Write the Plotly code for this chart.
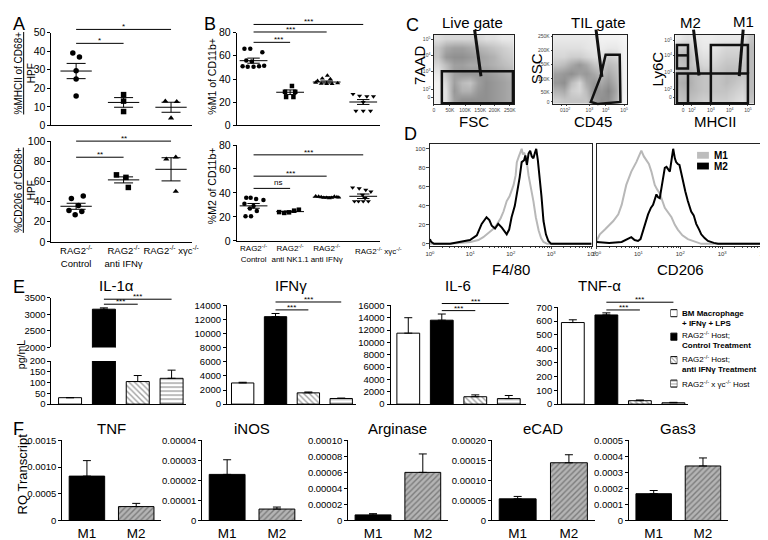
import plotly.graph_objects as go

W, H = 768, 540
FONT = "Liberation Sans, Arial, Helvetica, sans-serif"

# ---------------- data ----------------
# A: macrophage phenotype per HPF
a_labels = ["RAG2<sup>-/-</sup><br>Control", "RAG2<sup>-/-</sup><br>anti IFNγ",
            "RAG2<sup>-/-</sup> xγc<sup>-/-</sup>"]
a_mhcii = [[39, 36.9, 29.4, 25, 15.9], [16.6, 13.1, 7.5], [13.1, 12.8, 4.0]]
a_mhcii_dx = [[-0.07, 0.07, 0, 0, 0], [0, 0, 0], [-0.12, 0.12, 0]]
a_mhcii_mean = [29.3, 12.4, 9.8]
a_mhcii_sem = [4.1, 2.6, 2.7]
a_mhcii_sig = [(0, 1, 44.2, "*"), (0, 2, 51.7, "*")]

a_cd206 = [[45.5, 43, 36, 31, 30, 27], [66.5, 64, 54], [84, 82, 50]]
a_cd206_dx = [[0.15, -0.1, 0.05, -0.15, 0.12, -0.02], [-0.15, 0.05, 0.1], [0.1, -0.1, 0.1]]
a_cd206_mean = [35.3, 61.5, 72]
a_cd206_sem = [3.0, 3.0, 11.5]
a_cd206_sig = [(0, 1, 84, "**"), (0, 2, 100, "**")]

# B: M1 / M2 share of CD11b+ cells
b_labels = ["RAG2<sup>-/-</sup><br>Control", "RAG2<sup>-/-</sup><br>anti NK1.1",
            "RAG2<sup>-/-</sup><br>anti IFNγ", "RAG2<sup>-/-</sup> xγc<sup>-/-</sup>"]
b_m1 = [[66, 66, 63, 56, 55, 51, 50.5, 50.5, 51, 51.5],
        [34, 29, 29, 24.5, 24.5],
        [43, 40.5, 40, 38.5, 37, 36, 35.8, 35.8, 36.4],
        [27, 25.5, 25, 25, 20, 12.5, 12.5, 12.5]]
b_m1_dx = [[-0.25, -0.09, 0.24, -0.2, -0.05, -0.3, -0.16, 0, 0.15, 0.29],
           [0.05, -0.14, 0.14, -0.11, 0.09],
           [0.02, -0.12, 0.1, -0.25, -0.3, -0.15, 0, 0.15, 0.3],
           [-0.28, -0.1, 0.1, 0.28, 0, -0.2, 0, 0.2]]
b_m1_mean = [55.8, 28.6, 37.4, 20.2]
b_m1_sem = [2.2, 2.0, 0.9, 2.1]
b_m1_sig = [(0, 1, 71.6, "***"), (0, 2, 80.5, "***"), (0, 3, 87, "***")]

b_m2 = [[36, 36, 35, 34, 31, 29, 27, 25, 20.5, 20.5],
        [24, 23.3, 23.8, 25.2, 26],
        [37.3, 37, 36.5, 36, 36, 35.6, 36, 37, 36.5, 36.2],
        [44.5, 43.8, 42.5, 41, 38.4, 35.6, 33, 33, 33, 33]]
b_m2_dx = [[-0.2, -0.08, 0.07, 0.27, -0.25, 0, -0.1, 0.09, -0.22, -0.07],
           [-0.3, -0.16, -0.03, 0.11, 0.24],
           [-0.3, -0.22, -0.15, -0.08, 0, 0.07, 0.14, 0.21, 0.28, 0.33],
           [-0.29, -0.11, 0.07, 0.21, -0.02, 0.05, -0.24, -0.13, 0.0, 0.14]]
b_m2_mean = [29.2, 24.4, 36.4, 37.2]
b_m2_sem = [2.0, 0.5, 0.4, 1.9]
b_m2_sig = [(0, 1, 43.8, "ns"), (0, 2, 54, "***"), (0, 3, 71.8, "***")]

# C: gating density (rows top -> bottom, darkness 0..1)
c_live = [[0.15, 0.2, 0.2, 0.2, 0.2, 0.2, 0.15, 0.15, 0.1, 0.1],
          [0.3, 0.45, 0.5, 0.5, 0.45, 0.4, 0.35, 0.3, 0.25, 0.2],
          [0.3, 0.55, 0.6, 0.6, 0.55, 0.5, 0.45, 0.4, 0.3, 0.25],
          [0.2, 0.35, 0.5, 0.5, 0.45, 0.45, 0.45, 0.4, 0.35, 0.3],
          [0.1, 0.3, 0.5, 0.55, 0.55, 0.55, 0.55, 0.5, 0.45, 0.4],
          [0.05, 0.2, 0.5, 0.35, 0.3, 0.5, 0.6, 0.55, 0.5, 0.45],
          [0.05, 0.15, 0.55, 0.4, 0.4, 0.55, 0.6, 0.55, 0.5, 0.45],
          [0.05, 0.15, 0.5, 0.6, 0.6, 0.6, 0.6, 0.55, 0.5, 0.45]]
c_til = [[0.1, 0.1, 0.1, 0.1, 0.1, 0.08, 0.05, 0.05, 0.05, 0.03],
         [0.15, 0.15, 0.15, 0.15, 0.12, 0.1, 0.08, 0.1, 0.1, 0.05],
         [0.2, 0.2, 0.25, 0.25, 0.2, 0.15, 0.15, 0.25, 0.2, 0.05],
         [0.3, 0.35, 0.45, 0.55, 0.45, 0.3, 0.25, 0.35, 0.3, 0.05],
         [0.5, 0.55, 0.6, 0.5, 0.55, 0.45, 0.35, 0.45, 0.35, 0.05],
         [0.55, 0.6, 0.35, 0.2, 0.45, 0.55, 0.45, 0.55, 0.4, 0.05],
         [0.4, 0.45, 0.25, 0.2, 0.35, 0.6, 0.55, 0.65, 0.45, 0.05],
         [0.25, 0.3, 0.3, 0.3, 0.3, 0.5, 0.6, 0.6, 0.4, 0.03]]
c_mac = [[0.1, 0.15, 0.1, 0.08, 0.08, 0.1, 0.1, 0.1, 0.1, 0.3],
         [0.25, 0.3, 0.15, 0.1, 0.1, 0.15, 0.2, 0.2, 0.2, 0.35],
         [0.35, 0.4, 0.2, 0.15, 0.15, 0.2, 0.25, 0.25, 0.25, 0.35],
         [0.3, 0.35, 0.25, 0.2, 0.2, 0.25, 0.3, 0.3, 0.3, 0.35],
         [0.35, 0.4, 0.35, 0.3, 0.3, 0.3, 0.35, 0.35, 0.3, 0.35],
         [0.4, 0.45, 0.35, 0.3, 0.3, 0.3, 0.35, 0.3, 0.25, 0.35],
         [0.35, 0.4, 0.35, 0.3, 0.3, 0.3, 0.3, 0.25, 0.2, 0.35],
         [0.3, 0.35, 0.3, 0.25, 0.25, 0.25, 0.25, 0.2, 0.15, 0.3]]

# D: histograms (x as log10 of fluorescence, y as % of max)
d_f480_m1_exp = [0.0, 0.5, 1.0, 1.2, 1.32, 1.45, 1.55, 1.65, 1.75, 1.82, 1.9, 1.97, 2.03, 2.07, 2.12,
                 2.15, 2.2, 2.24, 2.27, 2.3, 2.33, 2.36, 2.4, 2.44, 2.5, 2.56, 2.62, 2.69, 2.75, 2.81,
                 2.9, 3.1, 4.0]
d_f480_m1 = [0, 0, 2, 4, 7, 11, 15, 20, 27, 34, 45, 50, 58, 62, 72, 86, 92, 97, 100, 94, 96, 93, 85,
             72, 60, 45, 28, 14, 6, 2, 0, 0, 0]
d_f480_m2_exp = [0.0, 0.03, 0.1, 0.5, 0.99, 1.16, 1.28, 1.4, 1.47, 1.53, 1.61, 1.69, 1.78, 1.86, 1.9,
                 1.96, 2.02, 2.1, 2.15, 2.22, 2.27, 2.33, 2.36, 2.4, 2.44, 2.48, 2.52, 2.56, 2.6, 2.63,
                 2.67, 2.71, 2.76, 2.81, 2.87, 2.93, 3.0, 3.5, 4.0]
d_f480_m2 = [5, 2, 0, 0, 4, 9, 21, 28, 25, 19, 16, 21, 17, 12, 10, 15, 28, 40, 52, 70, 86, 88, 93, 83,
             95, 98, 92, 90, 96, 100, 88, 72, 50, 24, 10, 3, 0, 0, 0]
d_cd206_m1_exp = [0.0, 0.08, 0.2, 0.4, 0.52, 0.6, 0.71, 0.83, 0.95, 1.01, 1.07, 1.13, 1.19, 1.25,
                  1.31, 1.39, 1.45, 1.51, 1.63, 1.71, 1.79, 1.87, 1.94, 2.05, 2.18, 2.5, 3.0, 4.0]
d_cd206_m1 = [3, 10, 15, 24, 31, 41, 62, 76, 86, 93, 98, 92, 88, 84, 76, 62, 57, 53, 38, 33, 28, 20,
              15, 9, 5, 0, 0, 0]
d_cd206_m2_exp = [0.0, 0.3, 0.6, 0.75, 0.83, 0.91, 0.99, 1.05, 1.11, 1.17, 1.23, 1.3, 1.35, 1.43, 1.47,
                  1.51, 1.55, 1.59, 1.63, 1.67, 1.71, 1.75, 1.79, 1.83, 1.87, 1.9, 1.94, 1.98, 2.02,
                  2.06, 2.12, 2.18, 2.26, 2.32, 2.38, 2.45, 2.5, 2.58, 2.66, 2.8, 2.9, 3.2, 4.0]
d_cd206_m2 = [2, 1, 2, 5, 7, 4, 3, 5, 14, 22, 31, 38, 41, 52, 49, 48, 60, 72, 80, 81, 78, 76, 88, 100,
              90, 86, 84, 83, 75, 66, 55, 45, 34, 30, 21, 15, 10, 6, 3, 1, 0, 0, 0]

# E: cytokines (pg/mL), four conditions
e_legend = ["<b>BM Macrophage</b>", "<b>+ IFNγ + LPS</b>",
            "RAG2<sup>-/-</sup> Host;", "<b>Control Treatment</b>",
            "RAG2<sup>-/-</sup> Host;", "<b>anti IFNγ Treatment</b>",
            "RAG2<sup>-/-</sup> x γc<sup>-/-</sup> Host"]
e_il1a = [30, 3150, 105, 120]
e_il1a_err = [0, 40, 28, 38]
e_ifng = [3000, 12400, 1600, 800]
e_ifng_err = [100, 450, 120, 60]
e_il6 = [11500, 13600, 1200, 900]
e_il6_err = [2500, 1000, 300, 500]
e_tnfa = [590, 645, 25, 10]
e_tnfa_err = [20, 15, 5, 3]
e_il1a_sig = [(1, 2, 3300, "***"), (1, 3, 3450, "***")]
e_ifng_sig = [(1, 2, 13360, "***"), (1, 3, 14480, "***")]
e_il6_sig = [(1, 2, 15150, "***"), (1, 3, 16300, "***")]
e_tnfa_sig = [(1, 2, 681, "***"), (1, 3, 737, "***")]

# F: qPCR, RQ transcript
f_groups = ["M1", "M2"]
f_tnf = [0.00083, 0.00026]
f_tnf_err = [0.00029, 0.00006]
f_inos = [0.000023, 0.0000057]
f_inos_err = [0.0000073, 0.000001]
f_arg = [0.000007, 0.00006]
f_arg_err = [0.0000015, 0.000023]
f_ecad = [0.000054, 0.000144]
f_ecad_err = [0.000006, 0.00002]
f_gas3 = [0.000167, 0.00034]
f_gas3_err = [0.00002, 0.00005]
f_tnf_ticks = ["0", "0.0005", "0.0010", "0.0015"]
f_inos_ticks = ["0", "0.00001", "0.00002", "0.00003", "0.00004"]
f_arg_ticks = ["0", "0.00002", "0.00004", "0.00006", "0.00008", "0.00010"]
f_ecad_ticks = ["0", "0.00005", "0.00010", "0.00015", "0.00020"]
f_gas3_ticks = ["0", "0.0001", "0.0002", "0.0003", "0.0004", "0.0005"]

# ---------------- figure plumbing ----------------
layout = dict(width=W, height=H, margin=dict(l=0, r=0, t=0, b=0),
              paper_bgcolor="white", plot_bgcolor="rgba(0,0,0,0)",
              font=dict(family=FONT, color="black", size=10),
              showlegend=False, barmode="overlay")
traces, shapes, annots = [], [], []
count = [0]


def new_axes(x0, x1, y0, y1, xa=None, ya=None):
    # pixel box -> paper domain
    count[0] += 1
    s = "" if count[0] == 1 else str(count[0])
    xd = dict(domain=[x0 / W, x1 / W], anchor="y" + s, showgrid=False, zeroline=False)
    yd = dict(domain=[1 - y1 / H, 1 - y0 / H], anchor="x" + s, showgrid=False, zeroline=False)
    xd.update(xa or {})
    yd.update(ya or {})
    layout["xaxis" + s] = xd
    layout["yaxis" + s] = yd
    return "x" + s, "y" + s


def text(x, y, s, size=10, angle=0, xanchor="center", **kw):
    annots.append(dict(xref="paper", yref="paper", x=x / W, y=1 - y / H, text=s,
                       showarrow=False, font=dict(size=size), textangle=angle,
                       xanchor=xanchor, yanchor="middle", **kw))


def sig(xa, ya, xr, yr, g0, g1, level, label, size=8):
    fx0 = (g0 - xr[0]) / (xr[1] - xr[0])
    fx1 = (g1 - xr[0]) / (xr[1] - xr[0])
    fy = (level - yr[0]) / (yr[1] - yr[0])
    shapes.append(dict(type="line", xref=xa + " domain", yref=ya + " domain",
                       x0=fx0, x1=fx1, y0=fy, y1=fy, line=dict(color="black", width=1)))
    annots.append(dict(xref=xa + " domain", yref=ya + " domain", x=(fx0 + fx1) / 2, y=fy,
                       text=label, showarrow=False, yanchor="bottom",
                       yshift=-4 if "*" in label else -1, font=dict(size=size)))


def dot_panel(box, vals, dxs, means, sems, xr, yr, ytick, symbols, labels, msize, hw, sigs,
              lsize=9.5):
    x0, x1, y0, y1 = box
    n = len(vals)
    xa, ya = new_axes(x0, x1, y0, y1,
                      dict(range=xr, showline=True, linecolor="black", ticks="",
                           tickvals=list(range(n)), ticktext=labels or [""] * n, tickangle=0,
                           showticklabels=bool(labels), tickfont=dict(size=lsize)),
                      dict(range=yr, showline=True, linecolor="black", ticks="outside",
                           ticklen=3, tickcolor="black", tickvals=ytick, tickfont=dict(size=10.5)))
    for i in range(n):
        traces.append(go.Scatter(x=[i + d for d in dxs[i]], y=vals[i], mode="markers",
                                 marker=dict(symbol=symbols[i], size=msize, color="black"),
                                 xaxis=xa, yaxis=ya, cliponaxis=False))
    lx, ly = [], []
    for i, (m, s) in enumerate(zip(means, sems)):
        lx += [i - hw[0], i + hw[0], None, i - hw[1], i + hw[1], None,
               i - hw[1], i + hw[1], None, i, i, None]
        ly += [m, m, None, m + s, m + s, None, m - s, m - s, None, m - s, m + s, None]
    traces.append(go.Scatter(x=lx, y=ly, mode="lines", line=dict(color="black", width=1),
                             xaxis=xa, yaxis=ya))
    for g0, g1, lev, lab in sigs:
        sig(xa, ya, xr, yr, g0, g1, lev, lab)


E_COLORS = ["white", "black", "white", "white"]
E_PATTERNS = ["", "", "\\", "-"]


def bar_panel(box, vals, errs, xr, yr, ytick, ytext=None, show_x=True,
              colors=E_COLORS, patterns=E_PATTERNS, width=0.68, fg="black", tsize=9.5,
              xlabels=None):
    x0, x1, y0, y1 = box
    n = len(vals)
    xd = dict(range=xr, showline=show_x, visible=show_x, linecolor="black", ticks="",
              tickvals=list(range(n)), showticklabels=bool(xlabels))
    if xlabels:
        xd.update(ticktext=xlabels, tickfont=dict(size=13.5), tickangle=0)
    xa, ya = new_axes(x0, x1, y0, y1, xd,
                      dict(range=yr, showline=True, linecolor="black", ticks="outside",
                           ticklen=3, tickcolor="black", tickvals=ytick,
                           ticktext=ytext or [str(t) for t in ytick],
                           tickfont=dict(size=tsize)))
    traces.append(go.Bar(x=list(range(n)), y=vals, width=width,
                         marker=dict(color=colors, line=dict(color="black", width=1),
                                     pattern=dict(shape=patterns, fgcolor=fg, size=4,
                                                  solidity=0.35)),
                         error_y=dict(type="data", array=errs, arrayminus=[0] * n,
                                      symmetric=False, color="black", thickness=1, width=4),
                         xaxis=xa, yaxis=ya))
    return xa, ya


# ---------------- A ----------------
dot_panel((39, 182, 19, 114), a_mhcii, a_mhcii_dx, a_mhcii_mean, a_mhcii_sem,
          [-0.52, 2.45], [0, 50], [0, 10, 20, 30, 40, 50],
          ["circle", "square", "triangle-up"], None, 5.5, (0.33, 0.2), a_mhcii_sig)
dot_panel((39, 182, 130, 233), a_cd206, a_cd206_dx, a_cd206_mean, a_cd206_sem,
          [-0.52, 2.45], [0, 100], [0, 20, 40, 60, 80, 100],
          ["circle", "square", "triangle-up"], a_labels, 5.5, (0.33, 0.2), a_cd206_sig)
text(12, 60, "<u>%MHCII of CD68+</u><br>HPF", size=10, angle=-90)
text(12, 180, "<u>%CD206 of CD68+</u><br>HPF", size=10, angle=-90)

# ---------------- B ----------------
b_ticks = b_labels[:3] + [""]
dot_panel((227, 372, 19, 114), b_m1, b_m1_dx, b_m1_mean, b_m1_sem,
          [-0.46, 3.45], [0, 80], [0, 20, 40, 60, 80],
          ["circle", "square", "triangle-up", "triangle-down"], None, 4.5, (0.38, 0.17), b_m1_sig)
dot_panel((227, 372, 134, 232), b_m2, b_m2_dx, b_m2_mean, b_m2_sem,
          [-0.46, 3.45], [0, 80], [0, 20, 40, 60, 80],
          ["circle", "square", "triangle-up", "triangle-down"], b_ticks, 4.5, (0.38, 0.17), b_m2_sig,
          lsize=8)
# the last group label sits right of its group in the original
text(371, 242, b_labels[3], size=8)
text(201, 64, "%M1 of CD11b+", size=10.5, angle=-90)
text(202, 176, "%M2 of CD11b+", size=10.5, angle=-90)

# ---------------- C ----------------
cells = [(i + 0.5) / 10 for i in range(10)]
rows = [(j + 0.5) / 8 for j in range(8)]
tiny = dict(size=5, color="#444")
c_panels = [
    ((427, 508), c_live, ([0, 0.2, 0.39, 0.58, 0.76, 0.95], ["0", "50K", "100K", "150K", "200K", "250K"]),
     ([0.09, 0.21, 0.47, 0.7, 0.93], ["0", "10<sup>2</sup>", "10<sup>3</sup>", "10<sup>4</sup>", "10<sup>5</sup>"])),
    ((548, 623), c_til, ([0.11, 0.18, 0.49, 0.71, 0.96], ["0", "10<sup>2</sup>", "10<sup>3</sup>", "10<sup>4</sup>", "10<sup>5</sup>"]),
     ([0.03, 0.17, 0.36, 0.57, 0.77, 0.97], ["0", "50K", "100K", "150K", "200K", "250K"])),
    ((672, 752), c_mac, ([0.1, 0.21, 0.45, 0.69, 0.92], ["0", "10<sup>2</sup>", "10<sup>3</sup>", "10<sup>4</sup>", "10<sup>5</sup>"]),
     ([0.09, 0.21, 0.45, 0.7, 0.92], ["0", "10<sup>2</sup>", "10<sup>3</sup>", "10<sup>4</sup>", "10<sup>5</sup>"])),
]
c_refs = []
for (cx0, cx1), grid, (xtv, xtt), (ytv, ytt) in c_panels:
    xa, ya = new_axes(cx0, cx1, 21, 92,
                      dict(range=[0, 1], showline=True, mirror=True, linecolor="#222", ticks="outside",
                           ticklen=1.5, tickvals=xtv, ticktext=xtt, tickfont=tiny, tickangle=0),
                      dict(range=[0, 1], showline=True, mirror=True, linecolor="#222", ticks="outside",
                           ticklen=1.5, tickvals=ytv, ticktext=ytt, tickfont=tiny))
    traces.append(go.Heatmap(z=grid[::-1], x=cells, y=rows, zmin=0, zmax=1, zsmooth="best",
                             colorscale=[[0, "#fbfbfb"], [0.5, "#a0a0a0"], [1, "#505050"]],
                             showscale=False, xaxis=xa, yaxis=ya))
    c_refs.append((xa, ya))


def gate(ref, pts, closed=True, width=2.5):
    xa, ya = ref
    path = "M" + " L".join(f"{x},{y}" for x, y in pts) + (" Z" if closed else "")
    shapes.append(dict(type="path", path=path, xref=xa + " domain", yref=ya + " domain",
                       line=dict(color="#111", width=width)))


gate(c_refs[0], [(0.10, 0.01), (0.99, 0.01), (0.99, 0.47), (0.10, 0.47)])
gate(c_refs[0], [(0.51, 1.07), (0.59, 0.40)], closed=False, width=3)
gate(c_refs[1], [(0.51, 0.03), (0.64, 0.39), (0.71, 0.71), (0.90, 0.71), (0.91, 0.03), (0.60, 0.0)])
gate(c_refs[1], [(0.58, 1.07), (0.66, 0.39)], closed=False, width=3)
gate(c_refs[2], [(0.02, 0.51), (0.16, 0.51), (0.16, 0.85), (0.02, 0.85)])
gate(c_refs[2], [(0.02, 0.70), (0.16, 0.70)], closed=False)
gate(c_refs[2], [(0.02, 0.01), (0.92, 0.01), (0.92, 0.44), (0.02, 0.44)])
gate(c_refs[2], [(0.16, 0.01), (0.16, 0.44)], closed=False)
gate(c_refs[2], [(0.45, 0.01), (0.45, 0.85), (0.92, 0.85), (0.92, 0.44)], closed=False)
gate(c_refs[2], [(0.23, 1.07), (0.30, 0.41)], closed=False, width=3)
gate(c_refs[2], [(0.86, 1.07), (0.81, 0.40)], closed=False, width=3)

text(466, 9, "Live gate", size=15)
text(593, 9, "TIL gate", size=15)
text(687, 9, "M2", size=15)
text(741, 8, "M1", size=15)
text(413, 53, "7AAD", size=15, angle=-90)
text(531, 56, "SSC", size=15, angle=-90)
text(654, 56, "Ly6C", size=15, angle=-90)
text(468, 110, "FSC", size=15)
text(588, 110, "CD45", size=15)
text(713, 110, "MHCII", size=15)

# ---------------- D ----------------
decades = [1, 10, 100, 1000, 10000]
dec_txt = ["10<sup>0</sup>", "10<sup>1</sup>", "10<sup>2</sup>", "10<sup>3</sup>", "10<sup>4</sup>"]
minor_vals = [m * d for d in decades[:-1] for m in range(2, 10)]
d_sets = [((423, 587), d_f480_m1_exp, d_f480_m1, d_f480_m2_exp, d_f480_m2, True, "F4/80"),
          ((592, 762), d_cd206_m1_exp, d_cd206_m1, d_cd206_m2_exp, d_cd206_m2, False, "CD206")]
for (dx0, dx1), e1, y1v, e2, y2v, showy, title in d_sets:
    xa, ya = new_axes(dx0, dx1, 133, 237,
                      dict(type="log", range=[0, 4], showline=True, mirror=True, linecolor="#222",
                           ticks="outside", ticklen=2.5, tickvals=decades, ticktext=dec_txt,
                           tickfont=dict(size=6, color="#333"), tickangle=0,
                           minor=dict(ticks="outside", ticklen=1.5, tickcolor="#444", tickvals=minor_vals)),
                      dict(range=[-2, 105], showline=True, mirror=True, linecolor="#222",
                           ticks="outside" if showy else "", ticklen=2.5,
                           tickvals=[0, 20, 40, 60, 80, 100], showticklabels=showy,
                           tickfont=dict(size=6, color="#333")))
    traces.append(go.Scatter(x=[10 ** e for e in e1], y=y1v, mode="lines",
                             line=dict(color="#b8b8b8", width=2), xaxis=xa, yaxis=ya))
    traces.append(go.Scatter(x=[10 ** e for e in e2], y=y2v, mode="lines",
                             line=dict(color="black", width=2), xaxis=xa, yaxis=ya))
    text((dx0 + dx1) / 2, 261, title, size=15)

shapes.append(dict(type="rect", xref="paper", yref="paper", x0=694 / W, x1=706 / W,
                   y0=1 - 148 / H, y1=1 - 141 / H, fillcolor="#bdbdbd", line=dict(width=0)))
shapes.append(dict(type="rect", xref="paper", yref="paper", x0=694 / W, x1=706 / W,
                   y0=1 - 159 / H, y1=1 - 152 / H, fillcolor="black", line=dict(width=0)))
text(709, 144.5, "<b>M1</b>", size=10, xanchor="left")
text(709, 155.5, "<b>M2</b>", size=10, xanchor="left")

# ---------------- E ----------------
xa, ya = bar_panel((39, 176, 355, 399), e_il1a, e_il1a_err, [-0.55, 3.44], [0, 200],
                   [0, 50, 100, 150, 200])
xa, ya = bar_panel((39, 176, 290, 341), e_il1a, e_il1a_err, [-0.55, 3.44], [2000, 3500],
                   [2000, 2500, 3000, 3500], show_x=False)
for g0, g1, lev, lab in e_il1a_sig:
    sig(xa, ya, [-0.55, 3.44], [2000, 3500], g0, g1, lev, lab)
e_rest = [((217, 348, 298, 399), e_ifng, e_ifng_err, [-0.48, 3.45], [0, 14000],
           list(range(0, 14001, 2000)), e_ifng_sig),
          ((383, 520, 298, 399), e_il6, e_il6_err, [-0.53, 3.5], [0, 16000],
           list(range(0, 16001, 2000)), e_il6_sig),
          ((553, 685, 300, 399), e_tnfa, e_tnfa_err, [-0.44, 3.44], [0, 700],
           list(range(0, 701, 100)), e_tnfa_sig)]
for box, v, er, xr, yr, yt, sg in e_rest:
    xa, ya = bar_panel(box, v, er, xr, yr, yt)
    for g0, g1, lev, lab in sg:
        sig(xa, ya, xr, yr, g0, g1, lev, lab)

text(105, 278, "IL-1α", size=15)
text(282, 278, "IFNγ", size=15)
text(451, 278, "IL-6", size=15)
text(595, 278, "TNF-α", size=15)
text(8, 348, "pg/mL", size=10.5, angle=-90)

# legend swatches for E, drawn as tiny horizontal bars
lx, ly = new_axes(667, 674, 294, 390, dict(range=[0, 1], visible=False),
                  dict(range=[3.5, -0.5], visible=False))
traces.append(go.Bar(orientation="h", y=[0, 1, 2, 3], x=[1, 1, 1, 1], width=0.3,
                     marker=dict(color=E_COLORS, line=dict(color="black", width=1),
                                 pattern=dict(shape=E_PATTERNS, fgcolor="black", size=3, solidity=0.35)),
                     xaxis=lx, yaxis=ly))
for t, yy in zip(e_legend, [306, 316.5, 328.5, 339.5, 353, 364, 378]):
    text(677, yy, t, size=8, xanchor="left")

# ---------------- F ----------------
f_sets = [((50, 150), "TNF", f_tnf, f_tnf_err, 0.0015, f_tnf_ticks),
          ((192, 293), "iNOS", f_inos, f_inos_err, 0.00004, f_inos_ticks),
          ((340, 441), "Arginase", f_arg, f_arg_err, 0.0001, f_arg_ticks),
          ((486, 590), "eCAD", f_ecad, f_ecad_err, 0.0002, f_ecad_ticks),
          ((625, 725), "Gas3", f_gas3, f_gas3_err, 0.0005, f_gas3_ticks)]
for (fx0, fx1), name, v, er, top, tt in f_sets:
    tv = [top * k / (len(tt) - 1) for k in range(len(tt))]
    bar_panel((fx0, fx1, 436, 518), v, er, [-0.5, 1.5], [0, top], tv, ytext=tt,
              colors=["black", "#b4b4b4"], patterns=["", "/"], width=0.72, fg="#6a6a6a",
              tsize=9.5, xlabels=f_groups)
    text((fx0 + fx1) / 2, 424, name, size=15)
text(10, 470, "RQ Transcript", size=13, angle=-90)

# panel letters
for letter, px, py in [("A", 6, 10), ("B", 200, 10), ("C", 405, 11), ("D", 403, 123),
                       ("E", 6, 279), ("F", 6, 424)]:
    text(px, py, letter, size=18)

layout["shapes"] = shapes
layout["annotations"] = annots
fig = go.Figure(data=traces, layout=layout)
fig.write_html("out.html")
